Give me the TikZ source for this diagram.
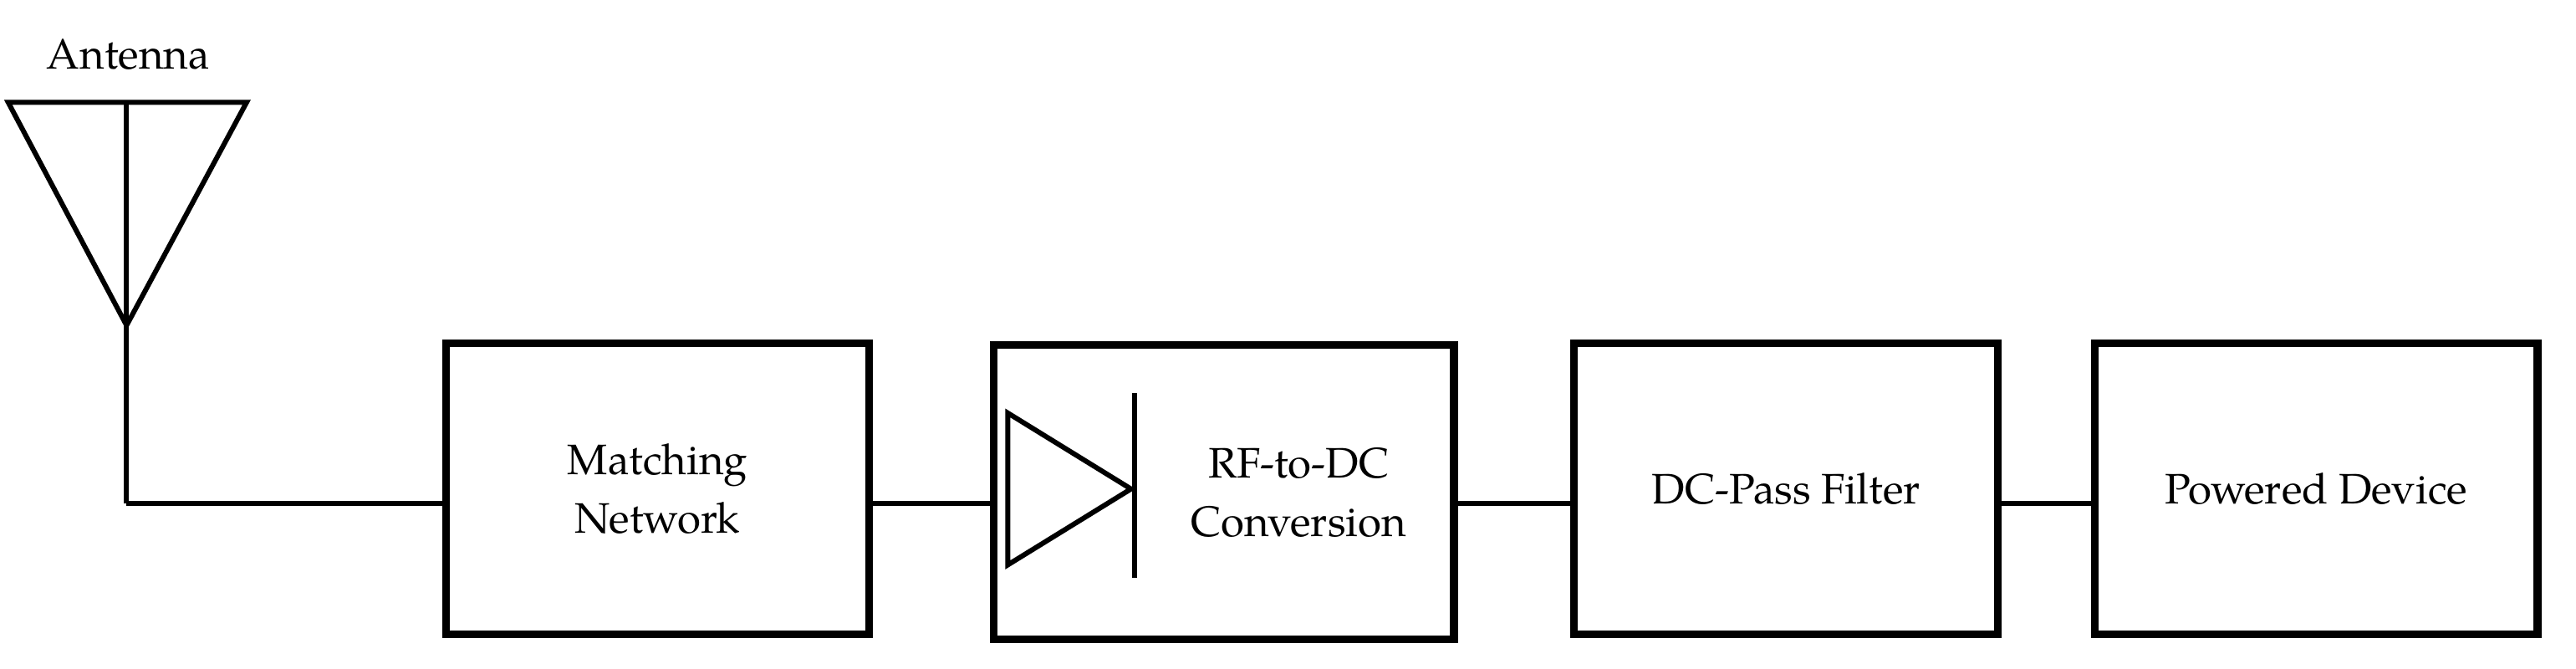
\documentclass[tikz,border=0pt]{standalone}
\usepackage{fontspec}
\setmainfont{TeX Gyre Pagella}
\usetikzlibrary{calc}
\begin{document}
\begin{tikzpicture}[
  x = 0.01966cm, y = -0.01975cm,
  line width = 1.7pt,
  every node/.style = {font = \fontsize{14.5}{20}\selectfont, align = center},
  block/.style = {draw, line width = 2.6pt, minimum height = 3.48cm, inner sep = 0pt}
]
\useasboundingbox (0,0) rectangle (1567,405);
% antenna
\node (ant) at (78,33) {Antenna};
\coordinate (top) at (77,62);
\coordinate (feed) at (77,305);
\draw (5,62) -- (150,62) -- (77,197) -- cycle;
\draw (top) -- (feed);
% blocks
\node[block, minimum width = 5.06cm] (match) at (400,296) {Matching\\Network};
\node[block, minimum width = 5.5cm, minimum height = 3.52cm] (conv) at (744.5,298) {};
\node (convtxt) at (790,298) {RF-to-DC\\Conversion};
\node[block, minimum width = 5.07cm] (filter) at (1086.5,296) {DC-Pass Filter};
\node[block, minimum width = 5.29cm] (load) at (1409,296) {Powered Device};
% diode
\draw (613,250) -- (688,296) -- (613,342) -- cycle;
\draw (690,238) -- (690,350);
% connections
\draw (feed) -- (match.west |- feed);
\draw (match.east |- feed) -- (conv.west |- feed);
\draw (conv.east |- feed) -- (filter.west |- feed);
\draw (filter.east |- feed) -- (load.west |- feed);
\end{tikzpicture}
\end{document}
